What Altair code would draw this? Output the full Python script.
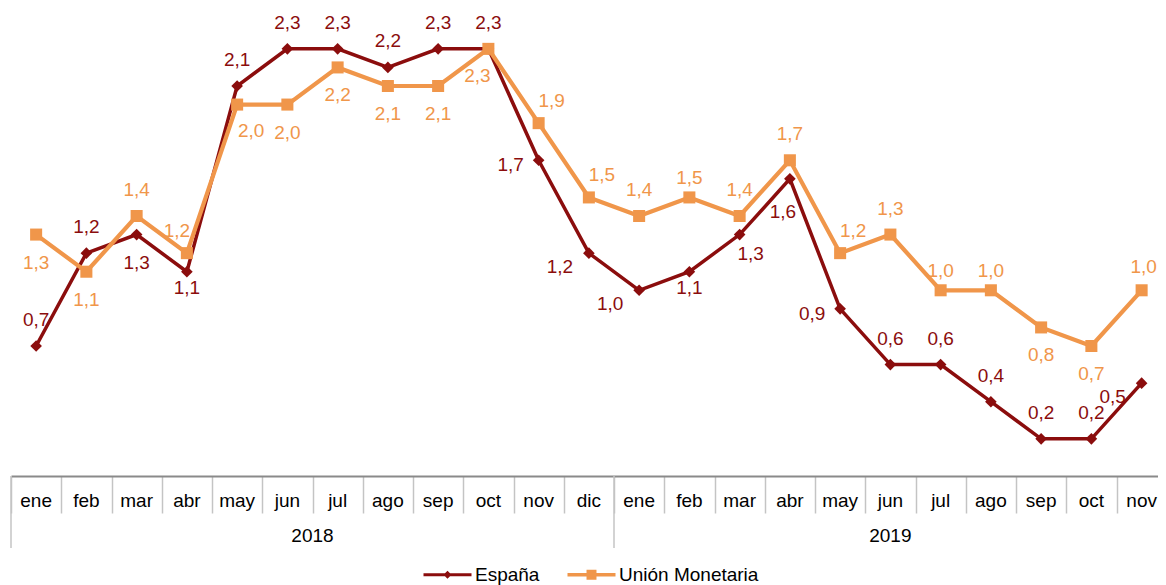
import altair as alt
import pandas as pd

# ---- data ----
months = ["ene", "feb", "mar", "abr", "may", "jun", "jul", "ago", "sep", "oct", "nov", "dic",
          "ene", "feb", "mar", "abr", "may", "jun", "jul", "ago", "sep", "oct", "nov"]
years = ["2018", "2019"]
year_first = [0, 12]          # index of first month of each year
year_last = [11, 22]          # index of last month of each year

series_names = ["España", "Unión Monetaria"]
espana = [0.7, 1.2, 1.3, 1.1, 2.1, 2.3, 2.3, 2.2, 2.3, 2.3, 1.7, 1.2,
          1.0, 1.1, 1.3, 1.6, 0.9, 0.6, 0.6, 0.4, 0.2, 0.2, 0.5]
union = [1.3, 1.1, 1.4, 1.2, 2.0, 2.0, 2.2, 2.1, 2.1, 2.3, 1.9, 1.5,
         1.4, 1.5, 1.4, 1.7, 1.2, 1.3, 1.0, 1.0, 0.8, 0.7, 1.0]

# label placement codes (style, not data)
place_es = ["T", "T", "B", "Bs", "T", "T", "T", "T", "T", "T", "L", "Ld",
            "Ld", "Bs", "BRs", "Bl", "L", "T", "T", "T", "T", "T", "Ld"]
place_um = ["B", "B", "T", "TL", "BR", "B", "B", "B", "B", "BLn", "TR", "TR",
            "T", "Ts", "T", "T", "TR", "T", "Ts", "Ts", "B", "B", "Tr"]
offsets = {"T": (0, -26), "Ts": (0, -19), "B": (0, 28), "Bs": (0, 16),
           "TR": (13, -22), "Tr": (2, -23), "TL": (-10, -22), "BR": (14, 26), "BRs": (11, 19),
           "BLn": (-11, 27), "Bl": (-7, 33), "L": (-28, 5), "Ld": (-29, 14)}

c_es = "#8B0D0D"
c_um = "#F0964A"
FONT = "Liberation Sans"

rows = []
for s, vals, places in [(series_names[0], espana, place_es), (series_names[1], union, place_um)]:
    for i, v in enumerate(vals):
        rows.append({"idx": i, "series": s, "value": v,
                     "label": f"{v:.1f}".replace(".", ","), "pos": places[i]})
df = pd.DataFrame(rows)

mdf = pd.DataFrame({"idx": list(range(len(months))), "month": months})
ydf = pd.DataFrame({"year": years,
                    "center": [(a + b) / 2 for a, b in zip(year_first, year_last)],
                    "edge": [a - 0.5 for a in year_first]})

n = len(months)
W = 1147
step = 50.25
xscale = alt.Scale(domain=[-0.5, -0.5 + W / step], nice=False, zero=False)
yscale = alt.Scale(domain=[0, 2.52], nice=False, zero=False)
cscale = alt.Scale(domain=series_names, range=[c_es, c_um])

# legend symbols: filled line segment + marker (unit box, 1 unit = 6 px)
path_es = "M-4,-0.25L4,-0.25L4,0.25L-4,0.25ZM0,-0.67L0.67,0L0,0.67L-0.67,0Z"
path_um = "M-4,-0.3L4,-0.3L4,0.3L-4,0.3ZM-0.83,-0.83L0.83,-0.83L0.83,0.83L-0.83,0.83Z"


def make_legend():
    return alt.Legend(orient="none", legendX=427, legendY=557,
                      direction="horizontal", columns=2, title=None,
                      symbolSize=144, symbolStrokeWidth=0, symbolOpacity=1,
                      labelFont=FONT, labelFontSize=19, labelColor="#000000",
                      labelOffset=18, columnPadding=27, padding=0)


def color_enc():
    return alt.Color("series:N", scale=cscale, legend=make_legend())


x_enc = alt.X("idx:Q", scale=xscale,
              axis=alt.Axis(values=[k - 0.5 for k in range(n)], labels=False, title=None,
                            grid=False, tickSize=37, tickColor="#c4c4c4", tickWidth=1.5,
                            domainColor="#8a8a8a", domainWidth=2))
xq = alt.X("idx:Q", scale=xscale)
y_enc = alt.Y("value:Q", scale=yscale, axis=None)

base = alt.Chart(df)
only_es = alt.datum.series == series_names[0]
only_um = alt.datum.series == series_names[1]

line_es = base.transform_filter(only_es).mark_line(strokeWidth=3.5).encode(
    x=x_enc, y=y_enc, color=color_enc())
line_um = base.transform_filter(only_um).mark_line(strokeWidth=4.2).encode(
    x=xq, y=y_enc, color=color_enc())

points_es = base.transform_filter(only_es).mark_point(
    filled=True, opacity=1, shape="diamond", size=135).encode(x=xq, y=y_enc, color=color_enc())
points_um = base.transform_filter(only_um).mark_point(
    filled=True, opacity=1, shape="square", size=145).encode(x=xq, y=y_enc, color=color_enc())

label_layers = []
for code, (dx, dy) in offsets.items():
    label_layers.append(
        base.transform_filter(alt.datum.pos == code).mark_text(
            dx=dx, dy=dy, font=FONT, fontSize=19, align="center", baseline="middle"
        ).encode(x=xq, y=y_enc, text="label:N", color=color_enc())
    )

legend_layer = base.transform_filter("datum.value < 0").mark_point(filled=True, opacity=1).encode(
    x=xq, y=y_enc,
    color=color_enc(),
    shape=alt.Shape("series:N",
                    scale=alt.Scale(domain=series_names, range=[path_es, path_um]),
                    legend=make_legend()),
)

month_text = alt.Chart(mdf).mark_text(font=FONT, fontSize=19, baseline="middle", color="#000000").encode(
    x=xq, y=alt.value(493), text="month:N")

year_text = alt.Chart(ydf).mark_text(font=FONT, fontSize=19, baseline="middle", color="#000000").encode(
    x=alt.X("center:Q", scale=xscale), y=alt.value(528), text="year:N")

year_rules = alt.Chart(ydf).mark_rule(color="#c4c4c4", strokeWidth=1.5).encode(
    x=alt.X("edge:Q", scale=xscale), y=alt.value(468), y2=alt.value(540))

chart = alt.layer(
    year_rules, line_es, line_um, points_es, points_um, *label_layers, month_text, year_text, legend_layer
).properties(
    width=W, height=468,
    autosize=alt.AutoSizeParams(type="none"),
    padding={"left": 3, "top": 0, "right": 0, "bottom": 109},
).configure_view(stroke=None)

chart.save("out.html", embed_options={"renderer": "svg", "actions": False})
